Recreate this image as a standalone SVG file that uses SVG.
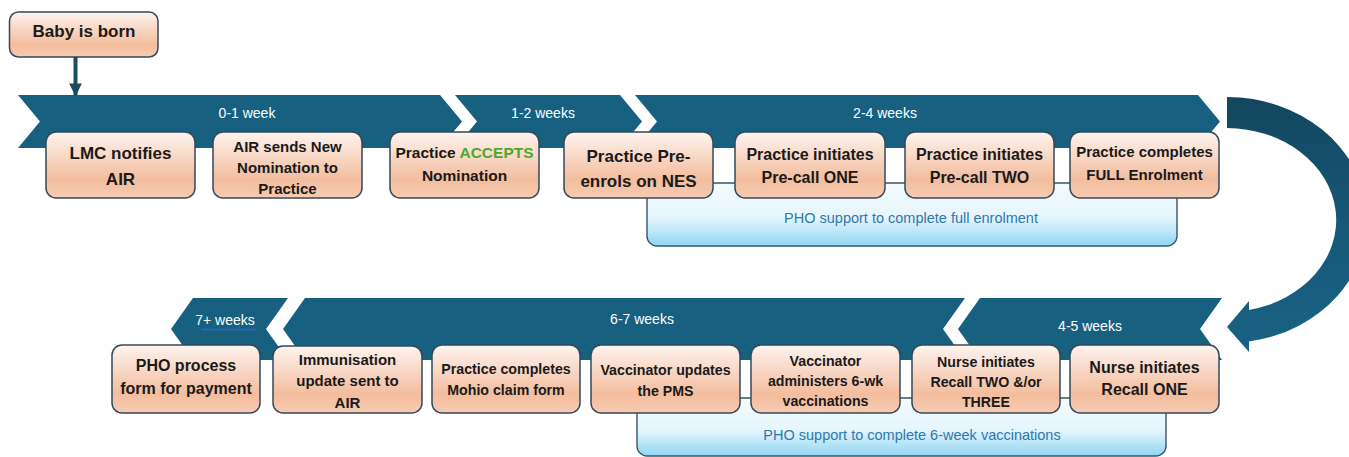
<svg xmlns="http://www.w3.org/2000/svg" width="1349" height="457" viewBox="0 0 1349 457">
  <defs>
    <linearGradient id="peach" x1="0" y1="0" x2="0" y2="1">
      <stop offset="0" stop-color="#fef4ef"/>
      <stop offset="0.72" stop-color="#f3bd9e"/>
      <stop offset="1" stop-color="#f6cbb2"/>
    </linearGradient>
    <linearGradient id="sky" x1="0" y1="0" x2="0" y2="1">
      <stop offset="0" stop-color="#f3fbfe"/>
      <stop offset="0.55" stop-color="#e6f6fd"/>
      <stop offset="1" stop-color="#8fd6f3"/>
    </linearGradient>
    <linearGradient id="loop" x1="0" y1="0" x2="0" y2="1">
      <stop offset="0" stop-color="#13465f"/>
      <stop offset="0.6" stop-color="#175b7a"/>
      <stop offset="1" stop-color="#196183"/>
    </linearGradient>
    <marker id="head" viewBox="0 0 10 10" refX="9" refY="5" markerWidth="3.2" markerHeight="3.2" orient="auto" markerUnits="strokeWidth">
      <path d="M0,0 L10,5 L0,10 Z" fill="#1c4b60"/>
    </marker>
    <style>
      .band { fill: #17607f; }
      .lbl { font-family: "Liberation Sans", Arial, sans-serif; font-size: 14px; fill: #ffffff; text-anchor: middle; }
      .box { fill: url(#peach); stroke: #33495a; stroke-width: 1.5; }
      .pho { fill: url(#sky); stroke: #3a5566; stroke-width: 1.4; }
      .t { font-family: "Liberation Sans", Arial, sans-serif; font-weight: bold; fill: #1a1a1a; text-anchor: middle; }
      .s14 { font-size: 14.2px; }
      .s15 { font-size: 15px; }
      .s16 { font-size: 16px; }
      .s17 { font-size: 17px; }
      .phot { font-family: "Liberation Sans", Arial, sans-serif; font-size: 14.5px; fill: #2f78ae; text-anchor: middle; }
    </style>
  </defs>

  <!-- timeline chevrons, upper row (pointing right) -->
  <g id="timeline-top">
    <path class="band" d="M18,95 L440,95 L462,121.5 L440,148 L18,148 L40,121.5 Z"/>
    <path class="band" d="M455,95 L620,95 L642,121.5 L620,148 L455,148 L477,121.5 Z"/>
    <path class="band" d="M635,95 L1198,95 L1220,121.5 L1198,148 L635,148 L657,121.5 Z"/>
    <text class="lbl" x="247" y="118">0-1 week</text>
    <text class="lbl" x="543" y="118">1-2 weeks</text>
    <text class="lbl" x="885" y="118">2-4 weeks</text>
  </g>

  <!-- timeline chevrons, lower row (pointing left) -->
  <g id="timeline-bottom">
    <path class="band" d="M193,298 L288,298 L266,329 L288,360 L193,360 L171,329 Z"/>
    <path class="band" d="M305,298 L965,298 L943,329 L965,360 L305,360 L283,329 Z"/>
    <path class="band" d="M980,298 L1222,298 L1200,329 L1222,360 L980,360 L958,329 Z"/>
    <text class="lbl" x="225" y="325">7+ weeks</text>
    <line x1="201" y1="329.5" x2="256" y2="329.5" stroke="#2f62d6" stroke-width="1.6"/>
    <text class="lbl" x="642" y="324">6-7 weeks</text>
    <text class="lbl" x="1090" y="331">4-5 weeks</text>
  </g>

  <!-- PHO support panels -->
  <g id="pho-enrolment">
    <rect class="pho" x="647" y="183" width="530" height="63" rx="10"/>
    <text class="phot" x="911" y="223">PHO support to complete full enrolment</text>
  </g>
  <g id="pho-vaccinations">
    <rect class="pho" x="637" y="398" width="529" height="58" rx="10"/>
    <text class="phot" x="912" y="440">PHO support to complete 6-week vaccinations</text>
  </g>

  <!-- start node -->
  <g id="baby-born">
    <rect class="box" x="9.5" y="12" width="148.5" height="45" rx="9"/>
    <text class="t s17" x="84" y="37">Baby is born</text>
  </g>

  <!-- upper row steps -->
  <g id="lmc-notifies">
    <rect class="box" x="46" y="132" width="149" height="66" rx="10"/>
    <text class="t s17" x="120.5" y="159">LMC notifies</text>
    <text class="t s17" x="120.5" y="185">AIR</text>
  </g>
  <g id="air-sends">
    <rect class="box" x="213" y="132" width="149" height="66" rx="10"/>
    <text class="t s15" x="287.5" y="152">AIR sends New</text>
    <text class="t s15" x="287.5" y="173">Nomination to</text>
    <text class="t s15" x="287.5" y="194">Practice</text>
  </g>
  <g id="practice-accepts">
    <rect class="box" x="390" y="132" width="149" height="66" rx="10"/>
    <text class="t s15" x="464.5" y="158" style="font-size:15.5px">Practice <tspan fill="#4ea72e">ACCEPTS</tspan></text>
    <text class="t s15" x="464.5" y="181" style="font-size:15.5px">Nomination</text>
  </g>
  <g id="practice-pre-enrols">
    <rect class="box" x="564" y="132" width="149" height="66" rx="10"/>
    <text class="t s17" x="638.5" y="162">Practice Pre-</text>
    <text class="t s17" x="638.5" y="187">enrols on NES</text>
  </g>
  <g id="pre-call-one">
    <rect class="box" x="735" y="132" width="150" height="66" rx="10"/>
    <text class="t s16" x="810" y="160">Practice initiates</text>
    <text class="t s16" x="810" y="183">Pre-call ONE</text>
  </g>
  <g id="pre-call-two">
    <rect class="box" x="905" y="132" width="149" height="66" rx="10"/>
    <text class="t s16" x="979.5" y="160">Practice initiates</text>
    <text class="t s16" x="979.5" y="183">Pre-call TWO</text>
  </g>
  <g id="full-enrolment">
    <rect class="box" x="1070" y="132" width="149" height="66" rx="10"/>
    <text class="t s15" x="1144.5" y="157">Practice completes</text>
    <text class="t s15" x="1144.5" y="180">FULL Enrolment</text>
  </g>

  <!-- lower row steps -->
  <g id="recall-one">
    <rect class="box" x="1070" y="345" width="149" height="68" rx="10"/>
    <text class="t s16" x="1144.5" y="373">Nurse initiates</text>
    <text class="t s16" x="1144.5" y="395">Recall ONE</text>
  </g>
  <g id="recall-two-three">
    <rect class="box" x="912" y="345" width="148" height="68" rx="10"/>
    <text class="t s14" x="986" y="367">Nurse initiates</text>
    <text class="t s14" x="986" y="387">Recall TWO &amp;/or</text>
    <text class="t s14" x="986" y="407">THREE</text>
  </g>
  <g id="administers">
    <rect class="box" x="751" y="345" width="149" height="68" rx="10"/>
    <text class="t s14" x="825.5" y="366">Vaccinator</text>
    <text class="t s14" x="825.5" y="386">administers 6-wk</text>
    <text class="t s14" x="825.5" y="406">vaccinations</text>
  </g>
  <g id="updates-pms">
    <rect class="box" x="591" y="345" width="149" height="68" rx="10"/>
    <text class="t s14" x="665.5" y="375">Vaccinator updates</text>
    <text class="t s14" x="665.5" y="396">the PMS</text>
  </g>
  <g id="mohio-claim">
    <rect class="box" x="432" y="345" width="148" height="68" rx="10"/>
    <text class="t s14" x="506" y="374">Practice completes</text>
    <text class="t s14" x="506" y="395">Mohio claim form</text>
  </g>
  <g id="immunisation-update">
    <rect class="box" x="273" y="346" width="149" height="67" rx="10"/>
    <text class="t s15" x="347.5" y="365">Immunisation</text>
    <text class="t s15" x="347.5" y="386">update sent to</text>
    <text class="t s15" x="347.5" y="408">AIR</text>
  </g>
  <g id="pho-payment">
    <rect class="box" x="112" y="345" width="148" height="68" rx="10"/>
    <text class="t s16" x="186" y="371">PHO process</text>
    <text class="t s16" x="186" y="394">form for payment</text>
  </g>

  <!-- connectors -->
  <g id="connectors">
    <line x1="75.5" y1="57" x2="75.5" y2="95" stroke="#1c4b60" stroke-width="4" marker-end="url(#head)"/>
    <path fill="url(#loop)" d="M1227,97 A140,123 0 0 1 1249,341.5 L1249,352 L1227,327 L1249,301 L1249,310 A110,92 0 0 0 1227,128 Z"/>
  </g>
</svg>
